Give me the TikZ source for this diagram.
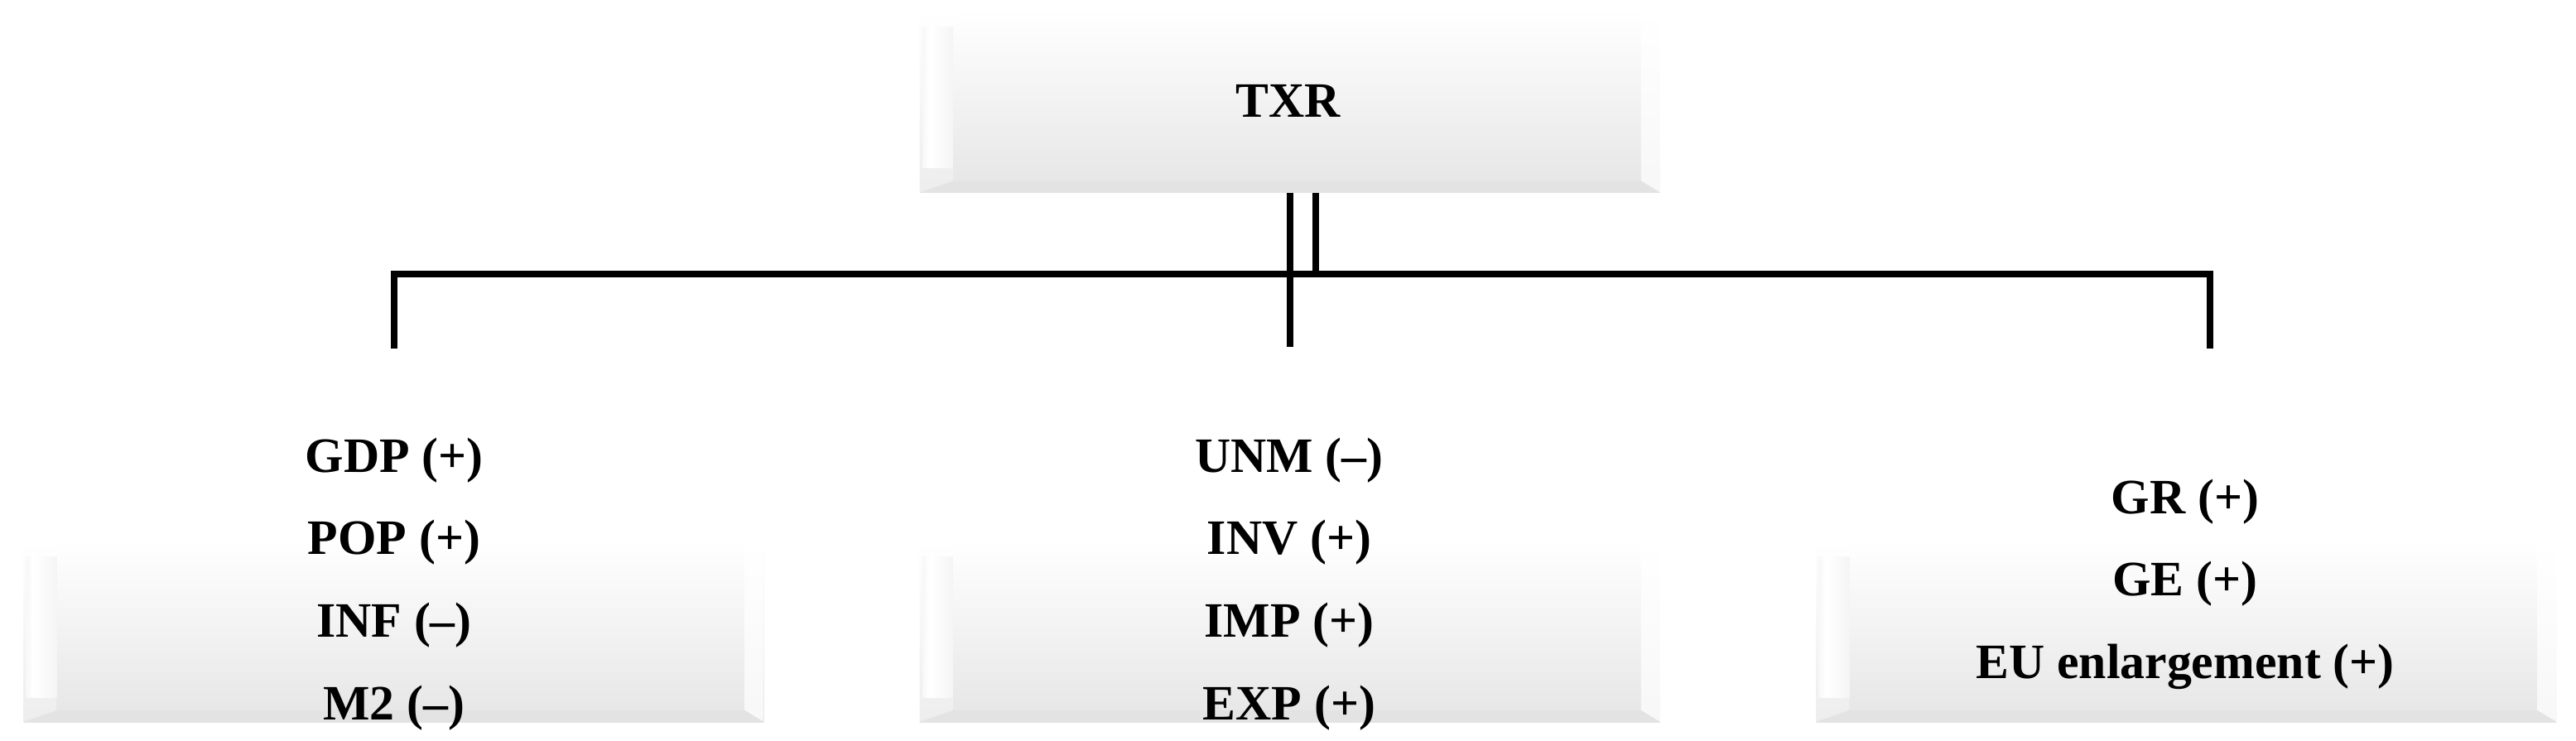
\documentclass[tikz,border=0pt]{standalone}
\usepackage{fontspec}
\setmainfont{Liberation Serif}
\usetikzlibrary{calc, positioning}
\tikzset{
	node distance = 0.385cm,
	bar/.style={
		line width=0.08cm,
		line cap=butt,
		line join=miter
	},
	factor/.style={
		font=\fontsize{17pt}{20pt}\selectfont\bfseries,
		inner sep=0pt,
		text height=0.45cm,
		text depth=0.15cm
	},
	panel/.style={
		rectangle,
		inner sep=0pt,
		minimum width=8.94cm,
		minimum height=2.2cm,
		top color=white,
		bottom color=black!10,
		path picture={
			% left bevel
			\shade[top color=white, bottom color=black!7]
				(path picture bounding box.south west) -- ++(0.4,0.14)
				-- ($(path picture bounding box.north west)+(0.4,0)$)
				-- (path picture bounding box.north west) -- cycle;
			\shade[left color=black!3, right color=white]
				($(path picture bounding box.south west)+(0.03,0.3)$)
				rectangle ($(path picture bounding box.north west)+(0.12,-0.2)$);
			\shade[left color=white, right color=black!4]
				($(path picture bounding box.south west)+(0.12,0.3)$)
				rectangle ($(path picture bounding box.north west)+(0.4,-0.2)$);
			% right bevel
			\shade[top color=white, bottom color=black!3]
				(path picture bounding box.south east) -- (path picture bounding box.north east)
				-- ++(-0.23,0) -- ($(path picture bounding box.south east)+(-0.23,0.14)$) -- cycle;
			% bottom bevel
			\fill[black!11]
				(path picture bounding box.south west) -- (path picture bounding box.south east)
				-- ++(-0.23,0.14) -- ($(path picture bounding box.south west)+(0.4,0.14)$) -- cycle;
		}
	}
}

\begin{document}
\begin{tikzpicture}
		\path[use as bounding box, fill=white] (0,0) rectangle (31.11,-8.95);

		\node[panel] (left) at (4.755,-7.62) {};
		\node[panel, right=1.87cm of left] (mid) {};
		\node[panel, right=1.87cm of mid] (right) {};
		\node[panel, above=4.18cm of mid] (top) {};

		\coordinate (hub) at ($(top.south)+(0,-0.98)$);
		\coordinate (midend) at ($(top.south)+(0,-1.86)$);
		\coordinate (leftend) at (4.76,-4.21);
		\coordinate (rightend) at (26.69,-4.21);

		\draw[bar] (top.south) -- (midend);
		\draw[bar] ([xshift=0.31cm]top.south) -- ([xshift=0.31cm]hub);
		\draw[bar] (leftend) -- (leftend |- hub) -- (rightend |- hub) -- (rightend);

		\node[factor] (txr) at (15.56,-1.27) {TXR};

		\node[factor] (gdp) at (4.76,-5.55) {GDP (+)};
		\node[factor, below=of gdp] (pop) {POP (+)};
		\node[factor, below=of pop] (inf) {INF (--)};
		\node[factor, below=of inf] (m2) {M2 (--)};

		\node[factor] (unm) at (15.57,-5.55) {UNM (--)};
		\node[factor, below=of unm] (inv) {INV (+)};
		\node[factor, below=of inv] (imp) {IMP (+)};
		\node[factor, below=of imp] (exp) {EXP (+)};

		\node[factor] (gr) at (26.39,-6.05) {GR (+)};
		\node[factor, below=of gr] (ge) {GE (+)};
		\node[factor, below=of ge] (eu) {EU enlargement (+)};
	\end{tikzpicture}
\end{document}
